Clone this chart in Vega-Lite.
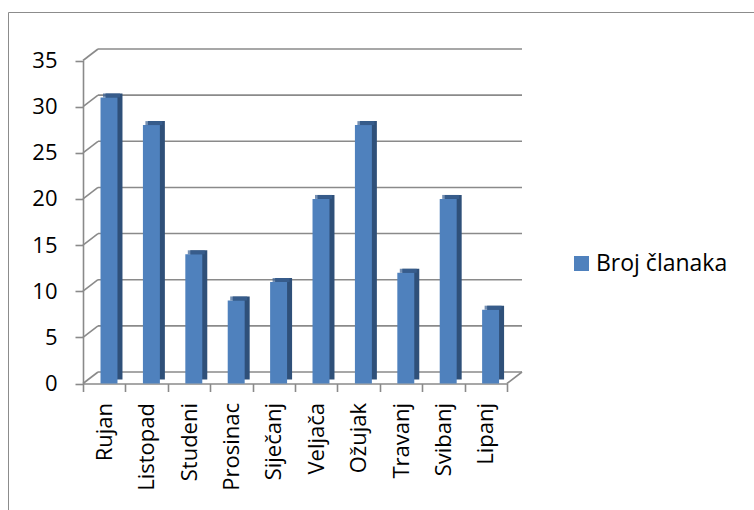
{
  "$schema": "https://vega.github.io/schema/vega-lite/v6.json",
  "width": 746,
  "height": 498,
  "autosize": {"type": "none"},
  "padding": {"left": 8, "top": 12, "right": 0, "bottom": 0},
  "background": "white",
  "datasets": {
    "months": [
      {"month": "Rujan", "value": 31},
      {"month": "Listopad", "value": 28},
      {"month": "Studeni", "value": 14},
      {"month": "Prosinac", "value": 9},
      {"month": "Siječanj", "value": 11},
      {"month": "Veljača", "value": 20},
      {"month": "Ožujak", "value": 28},
      {"month": "Travanj", "value": 12},
      {"month": "Svibanj", "value": 20},
      {"month": "Lipanj", "value": 8}
    ],
    "grid": [
      {"v": 0}, {"v": 5}, {"v": 10}, {"v": 15}, {"v": 20}, {"v": 25}, {"v": 30}, {"v": 35}
    ]
  },
  "data": {"name": "months"},
  "layer": [
    {
      "data": {"name": "grid"},
      "mark": {"type": "rule", "color": "#8a8a8a", "strokeWidth": 1.6, "xOffset": -6.2, "x2Offset": 36.2, "yOffset": -11.5},
      "encoding": {
        "x": {"datum": "Rujan", "type": "nominal"},
        "x2": {"datum": "Lipanj"},
        "y": {"field": "v", "type": "quantitative", "title": null}
      }
    },
    {
      "data": {"name": "grid"},
      "mark": {"type": "rule", "color": "#8a8a8a", "strokeWidth": 1.6, "xOffset": -21.2, "x2Offset": -6.2, "y2Offset": -11.5},
      "encoding": {
        "x": {"datum": "Rujan", "type": "nominal"},
        "x2": {"datum": "Rujan"},
        "y": {"field": "v", "type": "quantitative", "title": null},
        "y2": {"field": "v"}
      }
    },
    {
      "data": {"name": "grid"},
      "transform": [{"filter": "datum.v === 0"}],
      "mark": {"type": "rule", "color": "#8a8a8a", "strokeWidth": 1.6, "xOffset": 21.2, "x2Offset": 36.2, "y2Offset": -11.5},
      "encoding": {
        "x": {"datum": "Lipanj", "type": "nominal"},
        "x2": {"datum": "Lipanj"},
        "y": {"field": "v", "type": "quantitative", "title": null},
        "y2": {"field": "v"}
      }
    },
    {
      "mark": {"type": "bar", "color": "#2f5079", "width": {"band": 0.4}, "xOffset": 9.8, "yOffset": -4},
      "encoding": {
        "x": {"field": "month", "type": "nominal", "sort": null, "title": null},
        "y": {"field": "value", "type": "quantitative", "title": null}
      }
    },
    {
      "mark": {"type": "bar", "width": {"band": 0.4}, "xOffset": 4.8},
      "encoding": {
        "x": {
          "field": "month", "type": "nominal", "sort": null, "title": null,
          "scale": {"domain": ["Rujan", "Listopad", "Studeni", "Prosinac", "Siječanj", "Veljača", "Ožujak", "Travanj", "Svibanj", "Lipanj"], "range": [75, 499], "paddingInner": 0, "paddingOuter": 0},
          "axis": {"offset": -126.5, "labelAngle": -90, "labelPadding": 11, "tickBand": "extent", "tickSize": 8, "grid": false}
        },
        "y": {
          "field": "value", "type": "quantitative", "title": null,
          "scale": {"domain": [0, 35], "range": [371.5, 48.5], "nice": false, "zero": true},
          "axis": {"offset": -75, "values": [0, 5, 10, 15, 20, 25, 30, 35], "labelPadding": 18, "tickSize": 8, "grid": false}
        },
        "color": {
          "datum": "Broj članaka", "type": "nominal",
          "scale": {"range": ["#4f81bd"]},
          "legend": {"orient": "none", "legendX": 562, "legendY": 240, "title": null, "symbolType": "square", "symbolSize": 225, "symbolStrokeWidth": 0, "labelFont": "Open Sans", "labelFontSize": 23, "labelColor": "#000000", "labelOffset": 3, "padding": 0}
        }
      }
    },
    {
      "mark": {"type": "tick", "color": "#3a6193", "thickness": 4, "size": 17, "xOffset": 7.3, "yOffset": -2},
      "encoding": {
        "x": {"field": "month", "type": "nominal", "sort": null, "title": null},
        "y": {"field": "value", "type": "quantitative", "title": null}
      }
    }
  ],
  "config": {
    "view": {"stroke": "#8c8c8c", "strokeWidth": 1},
    "axis": {
      "domainColor": "#8a8a8a", "domainWidth": 1.6,
      "tickColor": "#8a8a8a", "tickWidth": 1.6,
      "labelFont": "Open Sans", "labelFontSize": 22, "labelColor": "#000000",
      "grid": false
    }
  }
}
